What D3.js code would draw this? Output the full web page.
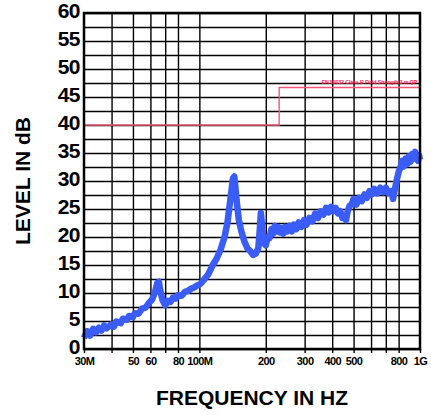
<!DOCTYPE html>
<html>
<head>
<meta charset="utf-8">
<script src="https://cdn.jsdelivr.net/npm/d3@7"></script>
<style>
  body { margin: 0; background: #fff; }
  text { font-family: "Liberation Sans", Arial, sans-serif; font-weight: bold; }
</style>
</head>
<body>
<svg id="chart" width="431" height="415"></svg>
<script>

// Data (frequency in MHz, level in dB)
const trace_freq = [30, 31, 32, 33, 34, 35, 36, 37, 38, 40, 41, 42, 44, 45, 47, 48, 50, 51, 53, 55,
    57, 59, 61, 63, 64.5, 65.5, 66.5, 68, 70, 72, 74, 76, 78, 80, 83, 86, 89, 92, 95, 98,
    101, 105, 110, 115, 120, 125, 130, 134, 137, 140, 142, 144, 146, 148, 151, 155, 160, 165, 170, 175,
    180, 185, 188, 190, 192, 195, 200, 204, 208, 212, 216, 220, 224, 228, 232, 236, 240, 245, 250, 256,
    262, 268, 275, 282, 290, 298, 306, 315, 325, 335, 345, 355, 365, 375, 385, 395, 405, 415, 425, 435,
    445, 455, 462, 470, 480, 490, 500, 515, 530, 545, 560, 575, 590, 605, 620, 640, 660, 680, 700, 720,
    740, 755, 770, 785, 800, 815, 830, 845, 860, 875, 890, 905, 920, 935, 950, 965, 980, 990, 1000];
const trace_level = [2.0, 3.2, 2.4, 3.6, 3.0, 3.8, 3.3, 4.2, 3.7, 4.4, 4.0, 4.9, 4.6, 5.4, 5.2, 5.9, 5.7, 6.4, 6.3, 7.2,
    7.4, 8.2, 8.8, 10.2, 11.8, 12.0, 10.5, 8.8, 7.8, 8.6, 8.4, 9.2, 9.0, 9.6, 9.5, 10.2, 10.4, 10.8, 11.0, 11.4,
    11.6, 12.4, 13.4, 15.0, 16.2, 17.8, 20.0, 22.5, 25.5, 28.5, 30.5, 30.8, 28.5, 26.0, 23.0, 21.0, 19.2, 18.0, 17.5, 16.8,
    17.0, 18.0, 21.5, 24.3, 22.5, 19.0, 18.5, 20.0, 19.8, 21.4, 20.6, 22.0, 21.0, 21.8, 20.8, 21.6, 20.6, 21.8, 21.0, 22.0,
    21.0, 22.2, 21.4, 22.6, 21.8, 23.0, 22.2, 23.4, 22.8, 24.2, 23.4, 24.6, 24.0, 25.2, 24.4, 25.4, 24.6, 25.2, 24.2, 24.6,
    23.4, 23.8, 23.0, 24.6, 25.6, 25.8, 26.8, 25.8, 27.0, 26.4, 27.6, 27.0, 28.2, 27.6, 28.6, 27.8, 28.8, 28.0, 28.8, 27.8,
    28.2, 26.8, 28.6, 30.2, 31.6, 32.4, 33.6, 32.6, 34.0, 33.0, 34.4, 33.4, 34.8, 34.0, 35.2, 34.2, 33.6, 34.6, 33.8];

const limit_freq = [30, 230, 230, 1000],
    limit_level = [40, 40, 46.7, 46.7];
const limit_name = "EN 55032 Class B Field Strength 3 m QP";

// Axis ticks
const x_grid = [40, 50, 60, 70, 80, 100, 200, 300, 400, 500, 600, 700, 800],
    x_labels = [30, 50, 60, 80, 100, 200, 300, 400, 500, 800, 1000],
    x_label_text = ["30M", "50", "60", "80", "100M", "200", "300", "400", "500", "800", "1G"];
const y_grid = d3.range(0, 60.1, 2.5),
    y_labels = d3.range(0, 61, 5);

const svg = d3.select("#chart");

const plot_left = 84, plot_right = 420, plot_top = 13, plot_bottom = 349;

const x = d3.scaleLog().domain([30, 1000]).range([plot_left, plot_right]);
const y = d3.scaleLinear().domain([0, 60]).range([plot_bottom, plot_top]);

// Gridlines
svg.append("g")
    .attr("transform", `translate(0,${plot_bottom})`)
    .call(d3.axisBottom(x).tickValues(x_grid).tickSize(-(plot_bottom - plot_top)).tickFormat(""))
    .call(g => g.select(".domain").remove())
    .call(g => g.selectAll("line").attr("stroke", "#000").attr("stroke-width", 1.4));

// small ticks below the axis
svg.append("g")
    .attr("transform", `translate(0,${plot_bottom})`)
    .call(d3.axisBottom(x).tickValues(x_grid.concat([30, 1000])).tickSize(4).tickFormat(""))
    .call(g => g.select(".domain").remove())
    .call(g => g.selectAll("line").attr("stroke", "#000").attr("stroke-width", 1.4));

svg.append("g")
    .attr("transform", `translate(${plot_left},0)`)
    .call(d3.axisLeft(y).tickValues(y_grid).tickSize(-(plot_right - plot_left)).tickFormat(""))
    .call(g => g.select(".domain").remove())
    .call(g => g.selectAll("line").attr("stroke", "#000").attr("stroke-width", 1.4));

// Tick labels
svg.append("g")
    .attr("transform", `translate(0,${plot_bottom})`)
    .call(d3.axisBottom(x).tickValues(x_labels).tickSize(0).tickPadding(8)
        .tickFormat((d, i) => x_label_text[i]))
    .call(g => g.select(".domain").remove())
    .call(g => g.selectAll("text")
        .attr("font-size", 11).attr("letter-spacing", -0.6).attr("fill", "#000"));

svg.append("g")
    .attr("transform", `translate(${plot_left},0)`)
    .call(d3.axisLeft(y).tickValues(y_labels).tickSize(0).tickPadding(4))
    .call(g => g.select(".domain").remove())
    .call(g => g.selectAll("text")
        .attr("dy", "0.2em")
        .attr("font-size", 21).attr("letter-spacing", -0.5).attr("fill", "#000"));

// Limit line
svg.append("path")
    .attr("d", d3.line()(limit_freq.map((f, i) => [x(f), y(limit_level[i])])))
    .attr("fill", "none")
    .attr("stroke", "#f5577a")
    .attr("stroke-width", 1.4);

svg.append("text")
    .attr("x", x(1000) - 3)
    .attr("y", y(limit_level[3]) - 3)
    .attr("text-anchor", "end")
    .attr("font-size", 5.4)
    .attr("letter-spacing", -0.2)
    .attr("fill", "#ff2a5a")
    .text(limit_name);

// Measured trace
svg.append("path")
    .attr("d", d3.line()(trace_freq.map((f, i) => [x(f), y(trace_level[i])])))
    .attr("fill", "none")
    .attr("stroke", "#3a5cf7")
    .attr("stroke-width", 6.5)
    .attr("stroke-linejoin", "round");

// Frame
svg.append("rect")
    .attr("x", plot_left).attr("y", plot_top)
    .attr("width", plot_right - plot_left).attr("height", plot_bottom - plot_top)
    .attr("fill", "none")
    .attr("stroke", "#000")
    .attr("stroke-width", 2.5);

// Axis titles
svg.append("text")
    .attr("x", (plot_left + plot_right) / 2)
    .attr("y", 405)
    .attr("text-anchor", "middle")
    .attr("font-size", 21)
    .text("FREQUENCY IN HZ");

svg.append("text")
    .attr("transform", `translate(30,${(plot_top + plot_bottom) / 2}) rotate(-90)`)
    .attr("text-anchor", "middle")
    .attr("font-size", 21)
    .text("LEVEL IN dB");

</script>
</body>
</html>
